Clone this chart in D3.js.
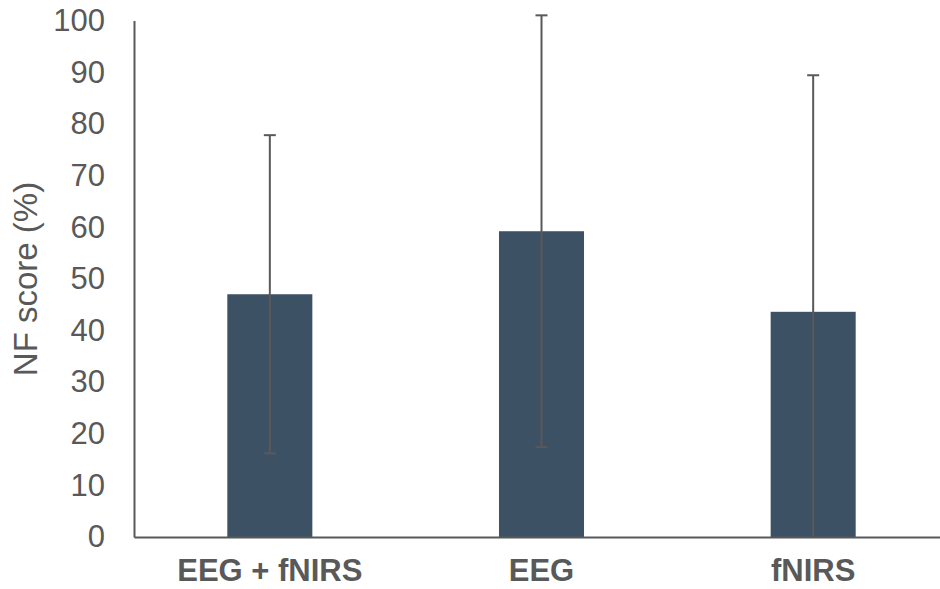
<!DOCTYPE html>
<html><head><meta charset="utf-8">
<script src="https://cdn.jsdelivr.net/npm/d3@7"></script>
<style>body{margin:0;background:#fff}svg{display:block}</style>
</head><body>
<script>
const categories = ["EEG + fNIRS", "EEG", "fNIRS"];
const means = [47.0, 59.2, 43.6];
const errors = [30.8, 41.8, 45.8];
const yTicks = [0,10,20,30,40,50,60,70,80,90,100];

const W = 940, H = 589;
const m = {left:134, right:-9, top:20.5, bottom:52};
const svg = d3.select("body").append("svg").attr("width", W).attr("height", H);
const x = d3.scaleBand().domain(categories).range([m.left, W - m.right]).paddingInner(0.687).paddingOuter(0.3435);
const y = d3.scaleLinear().domain([0,100]).range([H - m.bottom, m.top]);
const grey = "#595959";
const font = "Liberation Sans, Arial, sans-serif";

// bars
svg.selectAll("rect.bar").data(categories).enter().append("rect")
  .attr("class","bar")
  .attr("x", d => x(d)).attr("width", x.bandwidth())
  .attr("y", (d,i) => y(means[i])).attr("height", (d,i) => y(0) - y(means[i]))
  .attr("fill", "#3d5165");

// error bars
const eg = svg.append("g").attr("stroke", "#595959").attr("stroke-width", 2);
categories.forEach((c,i) => {
  const cx = x(c) + x.bandwidth()/2;
  const lo = Math.max(0, means[i]-errors[i]), hi = means[i]+errors[i];
  eg.append("line").attr("x1",cx).attr("x2",cx).attr("y1",y(lo)).attr("y2",y(hi));
  eg.append("line").attr("x1",cx-6).attr("x2",cx+6).attr("y1",y(hi)).attr("y2",y(hi));
  if (means[i]-errors[i] > 0)
    eg.append("line").attr("x1",cx-6).attr("x2",cx+6).attr("y1",y(lo)).attr("y2",y(lo));
});

// y axis
const ya = svg.append("g").attr("transform", `translate(${m.left},0)`)
  .call(d3.axisLeft(y).tickValues(yTicks).tickSize(0).tickPadding(29));
ya.select(".domain").attr("stroke", grey).attr("stroke-width", 2);
ya.selectAll("text").attr("fill", grey).attr("font-family", font).attr("font-size", 31);

// x axis
const xa = svg.append("g").attr("transform", `translate(0,${y(0)})`)
  .call(d3.axisBottom(x).tickSize(0).tickPadding(22));
xa.select(".domain").attr("stroke", grey).attr("stroke-width", 2);
xa.selectAll("text").attr("fill", grey).attr("font-family", font)
  .attr("font-size", 31).attr("font-weight","bold");

// y title
svg.append("text").attr("transform", `translate(37,${(183+375)/2}) rotate(-90)`)
  .attr("text-anchor","middle").attr("fill", grey)
  .attr("font-family", font).attr("font-size", 33)
  .text("NF score (%)");
</script>
</body></html>
